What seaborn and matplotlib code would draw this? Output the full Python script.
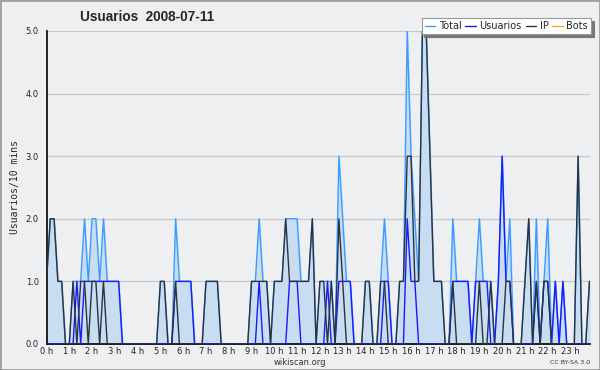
import matplotlib
matplotlib.use("Agg")
import matplotlib.pyplot as plt
import seaborn as sns
import pandas as pd
from matplotlib.ticker import MultipleLocator, FixedLocator

# 10-minute bins over the day (144 points)
ip = [1, 2, 2, 1, 1, 0, 0, 1, 0, 1, 1, 0,
      1, 1, 0, 1, 0, 0, 0, 0, 0, 0, 0, 0,
      0, 0, 0, 0, 0, 0, 1, 1, 0, 0, 1, 0,
      0, 0, 0, 0, 0, 0, 1, 1, 1, 1, 0, 0,
      0, 0, 0, 0, 0, 0, 1, 1, 1, 1, 1, 0,
      1, 1, 1, 2, 1, 1, 1, 1, 1, 1, 2, 0,
      1, 1, 0, 1, 0, 2, 1, 0, 0, 0, 0, 0,
      1, 1, 0, 0, 1, 1, 0, 0, 0, 1, 1, 3,
      3, 1, 1, 5, 5, 3, 1, 1, 1, 0, 0, 1,
      0, 0, 0, 0, 0, 0, 1, 0, 0, 1, 0, 0,
      0, 1, 1, 0, 0, 0, 1, 2, 0, 1, 0, 1,
      1, 0, 0, 0, 0, 0, 0, 0, 3, 0, 0, 1]
usuarios = [0, 0, 0, 0, 0, 0, 0, 0, 1, 0, 1, 1,
            1, 1, 1, 1, 1, 1, 1, 1, 0, 0, 0, 0,
            0, 0, 0, 0, 0, 0, 0, 0, 0, 0, 1, 1,
            1, 1, 1, 0, 0, 0, 0, 0, 0, 0, 0, 0,
            0, 0, 0, 0, 0, 0, 0, 0, 1, 0, 0, 0,
            0, 0, 0, 0, 1, 1, 1, 0, 0, 0, 0, 0,
            0, 0, 1, 0, 0, 1, 1, 1, 1, 0, 0, 0,
            0, 0, 0, 0, 0, 1, 1, 0, 0, 0, 0, 2,
            1, 1, 0, 0, 0, 0, 0, 0, 0, 0, 0, 1,
            1, 1, 1, 1, 0, 1, 1, 1, 1, 0, 0, 1,
            3, 1, 1, 0, 0, 0, 0, 0, 0, 1, 0, 1,
            1, 0, 1, 0, 1, 0, 0, 0, 0, 0, 0, 0]
total = [1, 2, 2, 1, 1, 0, 0, 1, 1, 1, 2, 1,
         2, 2, 1, 2, 1, 1, 1, 1, 0, 0, 0, 0,
         0, 0, 0, 0, 0, 0, 1, 1, 0, 0, 2, 1,
         1, 1, 1, 0, 0, 0, 1, 1, 1, 1, 0, 0,
         0, 0, 0, 0, 0, 0, 1, 1, 2, 1, 1, 0,
         1, 1, 1, 2, 2, 2, 2, 1, 1, 1, 2, 0,
         1, 1, 1, 1, 0, 3, 2, 1, 1, 0, 0, 0,
         1, 1, 0, 0, 1, 2, 1, 0, 0, 1, 1, 5,
         3, 2, 1, 5, 5, 3, 1, 1, 1, 0, 0, 2,
         1, 1, 1, 1, 0, 1, 2, 1, 1, 1, 0, 1,
         3, 1, 2, 0, 0, 0, 1, 2, 0, 2, 0, 1,
         2, 0, 1, 0, 1, 0, 0, 0, 3, 0, 0, 1]
bots = [0] * 144
hour_labels = [f"{h} h" for h in range(24)]

df = pd.DataFrame({"slot": range(144), "Total": total, "Usuarios": usuarios,
                   "IP": ip, "Bots": bots})

bg = "#eeeff1"
colors = {"Total": "#3d9bff", "Usuarios": "#1a1aff", "IP": "#2b3340", "Bots": "#ffa020"}

sns.set_style("white")
plt.rcParams["font.family"] = ["DejaVu Sans"]

fig = plt.figure(figsize=(6, 3.7), dpi=100, facecolor=bg)
ax = fig.add_axes([0.0775, 0.0703, 0.905, 0.846])
ax.set_facecolor(bg)

ax.fill_between(df["slot"], df["Total"], color="#c8def0", zorder=1)
sns.lineplot(data=df, x="slot", y="Bots", color=colors["Bots"], lw=1, ax=ax, zorder=0.5, label="Bots")
sns.lineplot(data=df, x="slot", y="Total", color=colors["Total"], lw=1, ax=ax, zorder=2, label="Total")
sns.lineplot(data=df, x="slot", y="Usuarios", color=colors["Usuarios"], lw=1, ax=ax, zorder=3, label="Usuarios")
sns.lineplot(data=df, x="slot", y="IP", color=colors["IP"], lw=1, ax=ax, zorder=4, label="IP")

ax.set_xlim(0, 143)
ax.set_ylim(0, 5)
ax.yaxis.set_major_locator(MultipleLocator(1))
ax.yaxis.set_minor_locator(MultipleLocator(0.25))
ax.set_yticklabels([f"{v:.1f}" for v in ax.get_yticks()])
ax.xaxis.set_major_locator(FixedLocator(range(0, 144, 6)))
ax.xaxis.set_minor_locator(MultipleLocator(1))
ax.set_xticklabels(hour_labels)
ax.tick_params(axis="both", which="both", direction="out", colors="black", labelsize=6,
               pad=0.5, labelcolor="#222222")
ax.tick_params(axis="x", which="major", length=4, width=1, pad=-1.5)
ax.tick_params(axis="x", which="minor", length=4, width=1)
ax.tick_params(axis="y", which="major", length=5, width=1)
ax.tick_params(axis="y", which="minor", length=3, width=1)
ax.grid(axis="y", color="#c8c8c8", lw=0.9, zorder=0)
ax.set_axisbelow(True)
for s in ["top", "right"]:
    ax.spines[s].set_visible(False)
for s in ["left", "bottom"]:
    ax.spines[s].set_color("black")
    ax.spines[s].set_linewidth(1.2)
ax.set_xlabel("")
ax.set_ylabel("Usuarios/10 mins", fontsize=7, family="DejaVu Sans Mono", labelpad=4)

handles, labels = ax.get_legend_handles_labels()
order = [labels.index(n) for n in ["Total", "Usuarios", "IP", "Bots"]]
leg = ax.legend([handles[i] for i in order], [labels[i] for i in order], ncol=4,
                loc="upper right", bbox_to_anchor=(0.985, 0.95), bbox_transform=fig.transFigure,
                fontsize=7, frameon=True, fancybox=False, shadow={"color": "#777777", "alpha": 1},
                handlelength=1.1, handletextpad=0.35, columnspacing=0.4, borderpad=0.3,
                borderaxespad=0)
leg.get_frame().set_edgecolor("#999999")
leg.get_frame().set_linewidth(0.8)

fig.text(0.133, 0.953, "Usuarios  2008-07-11", fontsize=9.8, fontweight="bold",
         family="Liberation Sans", va="center")
fig.text(0.5, 0.02, "wikiscan.org", fontsize=6, ha="center", va="center", color="#333333")
fig.text(0.983, 0.02, "CC BY-SA 3.0", fontsize=4.5, ha="right", va="center", color="#333333")

border = plt.Rectangle((0, 0), 1, 1, transform=fig.transFigure, fill=False,
                       edgecolor="#a0a0a0", lw=2)
fig.patches.append(border)

fig.savefig("out.png", dpi=100, facecolor=bg)
